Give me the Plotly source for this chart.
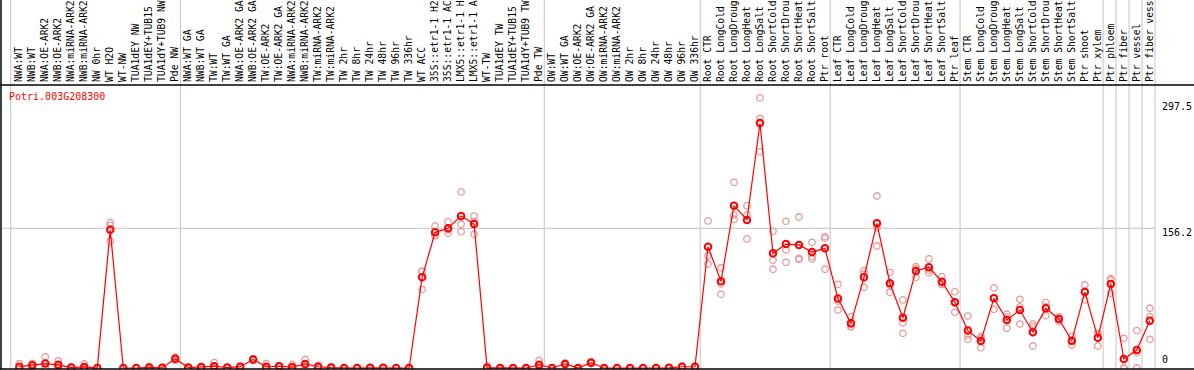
import plotly.graph_objects as go

gene = "Potri.003G208300"

labels = [
    "NWA:WT", "NWB:WT", "NWA:OE-ARK2", "NWB:OE-ARK2", "NWA:miRNA-ARK2", "NWB:miRNA-ARK2",
    "NW 0hr", "WT H2O", "WT-NW", "TUA1dEY NW", "TUA1dEY+TUB15", "TUA1dY+TUB9 NW", "Pde NW",
    "NWA:WT GA", "NWB:WT GA", "TW:WT", "TW:WT GA", "NWA:OE-ARK2 GA", "NWB:OE-ARK2 GA",
    "TW:OE-ARK2", "TW:OE-ARK2 GA", "NWA:miRNA-ARK2", "NWB:miRNA-ARK2", "TW:miRNA-ARK2",
    "TW:miRNA-ARK2", "TW 2hr", "TW 8hr", "TW 24hr", "TW 48hr", "TW 96hr", "TW 336hr",
    "WT ACC", "35S::etr1-1 H2O", "35S::etr1-1 ACC", "LMX5::etr1-1 H2O", "LMX5::etr1-1 ACC",
    "WT-TW", "TUA1dEY TW", "TUA1dEY+TUB15", "TUA1dY+TUB9 TW", "Pde TW",
    "OW:WT", "OW:WT GA", "OW:OE-ARK2", "OW:OE-ARK2 GA", "OW:miRNA-ARK2", "OW:miRNA-ARK2",
    "OW 2hr", "OW 8hr", "OW 24hr", "OW 48hr", "OW 96hr", "OW 336hr",
    "Root CTR", "Root LongCold", "Root LongDrought", "Root LongHeat", "Root LongSalt",
    "Root ShortCold", "Root ShortDrought", "Root ShortHeat", "Root ShortSalt", "Ptr root",
    "Leaf CTR", "Leaf LongCold", "Leaf LongDrought", "Leaf LongHeat", "Leaf LongSalt",
    "Leaf ShortCold", "Leaf ShortDrought", "Leaf ShortHeat", "Leaf ShortSalt", "Ptr leaf",
    "Stem CTR", "Stem LongCold", "Stem LongDrought", "Stem LongHeat", "Stem LongSalt",
    "Stem ShortCold", "Stem ShortDrought", "Stem ShortHeat", "Stem ShortSalt", "Ptr shoot",
    "Ptr xylem", "Ptr phloem", "Ptr fiber", "Ptr vessel", "Ptr fiber vessel",
]

mean_values = [
    1.5, 3.0, 5.0, 3.5, 0.5, 1.2, 0.0, 154.6, 0.0, 0.0, 0.6, 0.3, 10.4,
    0.5, 1.0, 2.0, 0.5, 1.5, 9.5, 1.4, 2.0, 1.0, 4.5, 1.4, 0.5, 0.0, 0.0, 0.3, 0.3, 0.0, 0.0,
    101.4, 151.7, 156.2, 170.0, 161.0, 0.2, 0.1, 0.0, 0.0, 3.5,
    0.0, 4.5, 0.0, 6.0, 0.0, 0.0, 0.0, 0.0, 0.0, 0.2, 1.4, 1.4,
    135.6, 97.0, 181.5, 165.5, 273.9, 128.2, 138.6, 137.6, 129.7, 133.8,
    77.7, 49.9, 101.4, 161.8, 94.7, 56.2, 108.5, 112.6, 96.5, 73.4,
    41.8, 30.2, 77.9, 53.7, 64.8, 39.9, 66.8, 54.8, 30.5, 84.9,
    33.9, 94.0, 10.0, 20.0, 52.9,
]

rep1 = [
    5.0, 5.0, 12.7, 8.0, 1.0, 4.5, 0.3, 162.5, 0.0, 0.0, 1.8, 1.0, 12.0,
    1.0, 1.5, 6.0, 0.5, 2.0, 10.5, 5.0, 2.5, 4.0, 9.5, 3.0, 1.0, 0.0, 0.0, 0.5, 0.5, 0.0, 0.0,
    108.4, 158.8, 163.6, 196.8, 169.9, 2.0, 0.3, 0.0, 0.0, 8.5,
    0.0, 5.5, 0.0, 7.0, 0.0, 0.0, 0.0, 0.0, 0.0, 0.5, 2.0, 2.0,
    164.4, 112.1, 207.6, 181.5, 302.0, 152.8, 164.0, 168.8, 140.5, 146.8,
    93.6, 57.4, 108.8, 192.3, 107.0, 76.1, 113.2, 121.9, 102.1, 85.3,
    58.1, 35.0, 89.5, 60.1, 76.8, 49.1, 73.3, 57.4, 35.7, 92.8,
    38.8, 98.4, 33.2, 41.8, 66.8,
]

rep2 = [
    0.0, 3.5, 1.0, 2.5, 0.3, 0.0, 0.0, 159.5, 0.0, 0.0, 0.0, 0.0, 10.0,
    0.5, 1.0, 0.0, 0.5, 1.5, 9.5, 0.0, 2.0, 0.0, 4.0, 1.0, 0.5, 0.0, 0.0, 0.3, 0.3, 0.0, 0.0,
    107.8, 148.2, 154.6, 161.0, 164.0, 0.0, 0.0, 0.0, 0.0, 1.5,
    0.0, 4.5, 0.0, 6.0, 0.0, 0.0, 0.0, 0.0, 0.0, 0.2, 1.2, 1.2,
    125.5, 94.0, 171.1, 171.1, 279.1, 120.6, 131.9, 122.6, 124.5, 145.1,
    74.8, 46.2, 104.8, 156.8, 92.4, 50.6, 110.8, 109.5, 93.3, 72.6,
    36.8, 32.9, 78.7, 56.5, 68.4, 45.9, 68.4, 54.6, 30.1, 85.9,
    38.2, 99.9, 0.0, 17.1, 57.4,
]

rep3 = [
    0.0, 0.5, 0.0, 0.5, 0.2, 0.0, 0.0, 141.7, 0.0, 0.0, 0.0, 0.0, 8.5,
    0.0, 0.5, 0.0, 0.5, 1.0, 8.5, 0.0, 1.5, 0.0, 0.0, 0.0, 0.0, 0.0, 0.0, 0.0, 0.0, 0.0, 0.0,
    88.0, 147.9, 150.6, 152.4, 149.5, 0.0, 0.0, 0.0, 0.0, 0.5,
    0.0, 3.5, 0.0, 5.0, 0.0, 0.0, 0.0, 0.0, 0.0, 0.0, 1.0, 1.0,
    116.3, 82.4, 166.3, 144.3, 241.9, 110.4, 118.1, 121.5, 121.9, 110.4,
    64.8, 46.2, 90.3, 136.4, 84.6, 38.8, 101.4, 106.5, 94.0, 62.3,
    32.1, 22.7, 65.6, 44.4, 49.1, 24.6, 58.5, 52.3, 25.7, 76.1,
    24.6, 83.5, 0.0, 0.0, 32.1,
]

y_tick_values = [297.5, 156.2, 0]
y_tick_labels = ["297.5", "156.2", "0"]

group_last_index = [12, 40, 52, 62, 72, 83, 84, 85, 86, 87]

W, H = 1194, 370
x_range = [-1.408, 87.4]
y_range = [-1.12, 316.4]
FONT = "DejaVu Sans Mono"
RED = "#ff0000"
PINK = "#eb9898"
GRID = "#c4c4c4"

xs = list(range(len(labels)))

fig = go.Figure()
rep_x, rep_y = [], []
for reps in (rep1, rep2, rep3):
    rep_x.extend(xs)
    rep_y.extend(reps)
fig.add_trace(go.Scatter(
    x=rep_x, y=rep_y, mode="markers",
    marker=dict(symbol="circle-open", size=6.5, color=PINK, line=dict(width=1.3, color=PINK)),
    hoverinfo="skip", showlegend=False,
))
fig.add_trace(go.Scatter(
    x=xs, y=mean_values, mode="lines+markers",
    line=dict(color=RED, width=1.2),
    marker=dict(symbol="circle-open", size=6.5, color=RED, line=dict(width=2, color=RED)),
    hoverinfo="skip", showlegend=False,
))


def px_to_paper(xv):
    return (xv - x_range[0]) / (x_range[1] - x_range[0])


shapes = []
# vertical group separators spanning whole figure height
sep_positions = [-0.66] + [i + 0.4 for i in group_last_index]
for sp in sep_positions:
    xp = px_to_paper(sp)
    shapes.append(dict(type="line", xref="paper", yref="paper", x0=xp, x1=xp, y0=0, y1=1.4,
                       line=dict(color=GRID, width=1), layer="below"))
# horizontal grid line at middle tick
shapes.append(dict(type="line", xref="paper", yref="y", x0=0, x1=1, y0=y_tick_values[1], y1=y_tick_values[1],
                   line=dict(color=GRID, width=1), layer="below"))
# black frame lines
shapes.append(dict(type="line", xref="paper", yref="paper", x0=-0.01, x1=1.05, y0=1, y1=1,
                   line=dict(color="black", width=1.5)))
shapes.append(dict(type="line", xref="paper", yref="paper", x0=-0.01, x1=1.05, y0=0.0, y1=0.0,
                   line=dict(color="black", width=1.5)))
shapes.append(dict(type="line", xref="paper", yref="paper", x0=0, x1=0, y0=0, y1=1.4,
                   line=dict(color="black", width=1.5)))

annotations = [
    dict(text=gene, xref="paper", yref="paper", x=px_to_paper(-0.92), y=0.96,
         xanchor="left", yanchor="middle", showarrow=False,
         font=dict(family=FONT, size=10, color=RED)),
]
for v, t in zip(y_tick_values, y_tick_labels):
    annotations.append(dict(
        text=t, xref="paper", yref="y", x=1.0, y=v, xshift=5,
        xanchor="left", yanchor="bottom" if v == 0 else "top",
        yshift=1 if v == 0 else 3, showarrow=False,
        font=dict(family=FONT, size=10, color="black"),
    ))

fig.update_layout(
    width=W, height=H,
    margin=dict(l=1, r=38.5, t=85, b=1, pad=0),
    paper_bgcolor="white", plot_bgcolor="white",
    shapes=shapes, annotations=annotations,
    xaxis=dict(
        range=x_range, side="top", tickmode="array", tickvals=xs, ticktext=labels,
        tickangle=-90, tickfont=dict(family=FONT, size=9.7, color="black"),
        ticklabelstandoff=2,
        showgrid=False, zeroline=False, showline=False, ticks="", automargin=False,
    ),
    yaxis=dict(range=y_range, showgrid=False, zeroline=False, showline=False,
               showticklabels=False, ticks="", automargin=False),
    showlegend=False,
)

fig.write_html("out.html", config={"displayModeBar": False},
               post_script="document.body.style.margin='0';")
